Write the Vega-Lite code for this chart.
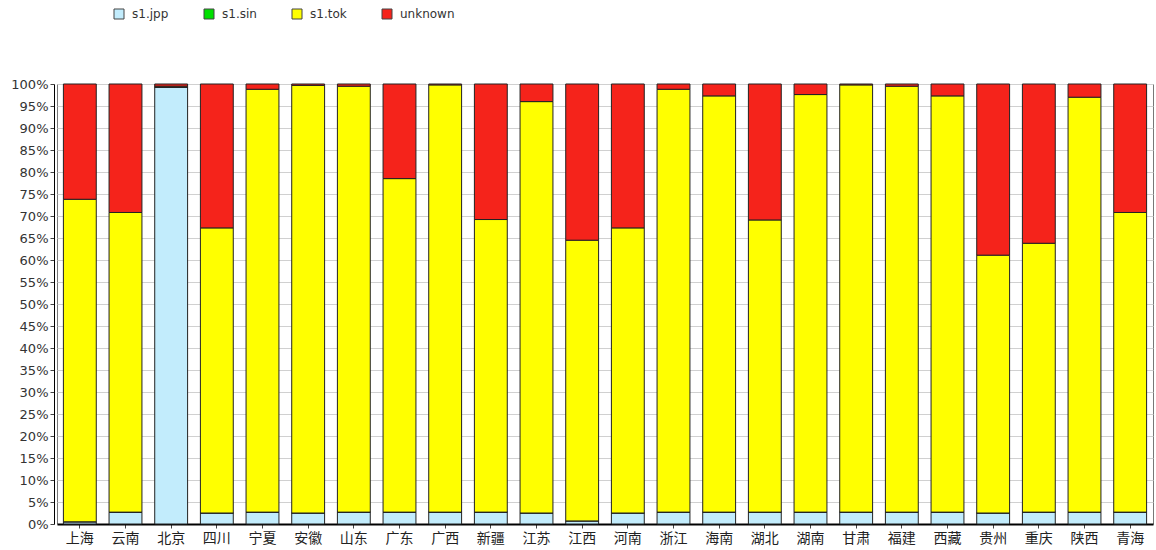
{
  "$schema": "https://vega.github.io/schema/vega-lite/v6.json",
  "width": 1096,
  "height": 440,
  "autosize": {"type": "none"},
  "padding": {"left": 57, "top": 84, "right": 3, "bottom": 26},
  "background": "white",
  "config": {
    "view": {"stroke": "#777", "strokeWidth": 1},
    "axis": {"labelFont": "DejaVu Sans", "labelColor": "#333", "domainColor": "#000"}
  },
  "datasets": {
    "wide": [
      {"prov": "上海", "jpp": 0.5, "sin": 0, "tok": 73.3, "unk": 26.2},
      {"prov": "云南", "jpp": 2.7, "sin": 0, "tok": 68.1, "unk": 29.2},
      {"prov": "北京", "jpp": 99.3, "sin": 0, "tok": 0.2, "unk": 0.5},
      {"prov": "四川", "jpp": 2.5, "sin": 0, "tok": 64.8, "unk": 32.7},
      {"prov": "宁夏", "jpp": 2.7, "sin": 0, "tok": 96.1, "unk": 1.2},
      {"prov": "安徽", "jpp": 2.5, "sin": 0, "tok": 97.2, "unk": 0.3},
      {"prov": "山东", "jpp": 2.7, "sin": 0, "tok": 96.8, "unk": 0.5},
      {"prov": "广东", "jpp": 2.7, "sin": 0, "tok": 75.8, "unk": 21.5},
      {"prov": "广西", "jpp": 2.7, "sin": 0, "tok": 97.1, "unk": 0.2},
      {"prov": "新疆", "jpp": 2.7, "sin": 0, "tok": 66.5, "unk": 30.8},
      {"prov": "江苏", "jpp": 2.5, "sin": 0, "tok": 93.5, "unk": 4.0},
      {"prov": "江西", "jpp": 0.7, "sin": 0, "tok": 63.8, "unk": 35.5},
      {"prov": "河南", "jpp": 2.5, "sin": 0, "tok": 64.8, "unk": 32.7},
      {"prov": "浙江", "jpp": 2.7, "sin": 0, "tok": 96.1, "unk": 1.2},
      {"prov": "海南", "jpp": 2.7, "sin": 0, "tok": 94.6, "unk": 2.7},
      {"prov": "湖北", "jpp": 2.7, "sin": 0, "tok": 66.4, "unk": 30.9},
      {"prov": "湖南", "jpp": 2.7, "sin": 0, "tok": 94.9, "unk": 2.4},
      {"prov": "甘肃", "jpp": 2.7, "sin": 0, "tok": 97.1, "unk": 0.2},
      {"prov": "福建", "jpp": 2.7, "sin": 0, "tok": 96.8, "unk": 0.5},
      {"prov": "西藏", "jpp": 2.7, "sin": 0, "tok": 94.6, "unk": 2.7},
      {"prov": "贵州", "jpp": 2.5, "sin": 0, "tok": 58.6, "unk": 38.9},
      {"prov": "重庆", "jpp": 2.7, "sin": 0, "tok": 61.1, "unk": 36.2},
      {"prov": "陕西", "jpp": 2.7, "sin": 0, "tok": 94.3, "unk": 3.0},
      {"prov": "青海", "jpp": 2.7, "sin": 0, "tok": 68.1, "unk": 29.2}
    ]
  },
  "data": {"name": "wide"},
  "transform": [
    {"fold": ["jpp", "sin", "tok", "unk"], "as": ["key", "value"]},
    {"lookup": "key", "from": {"data": {"values": [
      {"key": "jpp", "series": "s1.jpp"},
      {"key": "sin", "series": "s1.sin"},
      {"key": "tok", "series": "s1.tok"},
      {"key": "unk", "series": "unknown"}
    ]}, "key": "key", "fields": ["series"]}}
  ],
  "mark": {"type": "bar", "stroke": "#222", "strokeWidth": 1},
  "encoding": {
    "x": {
      "field": "prov", "type": "nominal", "sort": null,
      "scale": {"paddingInner": 0.28, "paddingOuter": 0.14},
      "axis": {"title": null, "labelAngle": 0, "labelFont": "Noto Sans CJK SC", "labelFontSize": 14, "labelColor": "#222", "tickSize": 4, "tickColor": "#444", "domainWidth": 2, "labelPadding": 3}
    },
    "y": {
      "field": "value", "type": "quantitative", "stack": "normalize",
      "scale": {"domain": [0, 1], "nice": false},
      "axis": {"title": null, "values": [0,0.05,0.1,0.15,0.2,0.25,0.3,0.35,0.4,0.45,0.5,0.55,0.6,0.65,0.7,0.75,0.8,0.85,0.9,0.95,1], "format": ".0%", "labelFontSize": 13, "tickSize": 4, "tickColor": "#444", "gridColor": "#d0d0d0", "offset": 3, "labelPadding": 2}
    },
    "color": {
      "field": "series", "type": "nominal",
      "scale": {"domain": ["s1.jpp", "s1.sin", "s1.tok", "unknown"], "range": ["#C2ECFC", "#00E000", "#FFFF00", "#F5231B"]},
      "legend": {"title": null, "orient": "none", "legendX": 56, "legendY": -76, "direction": "horizontal", "columns": 4, "symbolType": "square", "symbolSize": 100, "symbolStrokeColor": "#444", "symbolStrokeWidth": 1, "labelFont": "DejaVu Sans", "labelFontSize": 12, "labelColor": "#333", "labelOffset": 7, "columnPadding": 33, "symbolOffset": 0}
    },
    "order": {"field": "series", "sort": "ascending"}
  }
}
